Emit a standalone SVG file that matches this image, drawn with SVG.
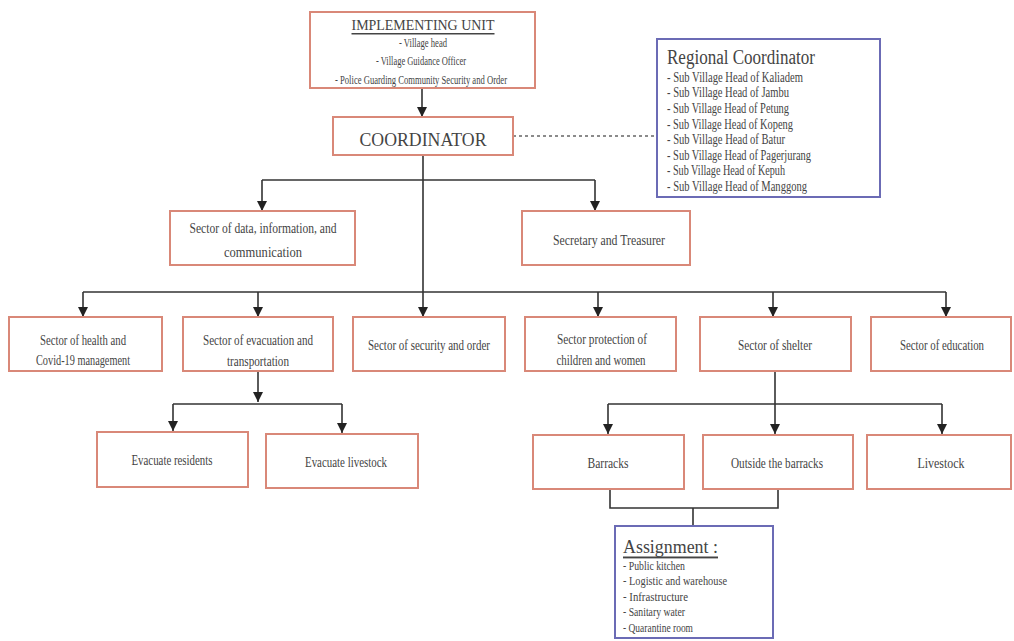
<svg xmlns="http://www.w3.org/2000/svg" width="1014" height="641" viewBox="0 0 1014 641">
<defs>
<marker id="arr" viewBox="0 0 10 10" refX="10" refY="5" markerWidth="10" markerHeight="10" markerUnits="userSpaceOnUse" orient="auto">
<path d="M0,0 L10,5 L0,10 z" fill="#222"/>
</marker>
<style>
.red{fill:#fff;stroke:#d98878;stroke-width:2}
.blue{fill:#fff;stroke:#6b6bb5;stroke-width:2}
.t{font-family:"Liberation Serif",serif;fill:#444;font-size:15px;text-anchor:middle;dominant-baseline:central}
.l{font-family:"Liberation Serif",serif;fill:#444;font-size:14px;dominant-baseline:central}
.ln{fill:none;stroke:#333;stroke-width:1.6}
.ar{fill:none;stroke:#333;stroke-width:1.6;marker-end:url(#arr)}
</style>
</defs>
<rect width="1014" height="641" fill="#fff"/>
<g id="connectors">
<line class="ar" x1="422" y1="88" x2="422" y2="117"/>
<line x1="513" y1="136" x2="656" y2="136" stroke="#666" stroke-width="1.3" stroke-dasharray="3,3"/>
<line class="ln" x1="423" y1="155" x2="423" y2="292"/>
<polyline class="ar" points="262,180 262,211"/>
<polyline class="ar" points="595,180 595,211"/>
<line class="ln" x1="262" y1="180" x2="595" y2="180"/>
<line class="ln" x1="83" y1="292" x2="946" y2="292"/>
<line class="ar" x1="83" y1="292" x2="83" y2="317"/>
<line class="ar" x1="258" y1="292" x2="258" y2="317"/>
<line class="ar" x1="423" y1="292" x2="423" y2="317"/>
<line class="ar" x1="598" y1="292" x2="598" y2="317"/>
<line class="ar" x1="773" y1="292" x2="773" y2="317"/>
<line class="ar" x1="946" y1="292" x2="946" y2="317"/>
<line class="ar" x1="258" y1="371" x2="258" y2="402"/>
<line class="ln" x1="173" y1="404" x2="342" y2="404"/>
<line class="ar" x1="173" y1="404" x2="173" y2="431"/>
<line class="ar" x1="342" y1="404" x2="342" y2="433"/>
<line class="ln" x1="775" y1="371" x2="775" y2="404"/>
<line class="ln" x1="608" y1="404" x2="942" y2="404"/>
<line class="ar" x1="608" y1="404" x2="608" y2="434"/>
<line class="ar" x1="775" y1="404" x2="775" y2="434"/>
<line class="ar" x1="942" y1="404" x2="942" y2="434"/>
<polyline class="ln" points="610,489 610,508 778,508 778,489"/>
<line class="ln" x1="693" y1="508" x2="693" y2="526"/>
</g>
<g id="implementing-unit">
<rect class="red" x="310" y="12" width="225" height="76"/>
<text class="t" x="423" y="25" style="font-size:15px" textLength="143" lengthAdjust="spacingAndGlyphs" text-decoration="underline">IMPLEMENTING UNIT</text>
<text class="t" x="423" y="42" style="font-size:13px" textLength="48" lengthAdjust="spacingAndGlyphs">- Village head</text>
<text class="t" x="421" y="60" style="font-size:13px" textLength="90" lengthAdjust="spacingAndGlyphs">- Village Guidance Officer</text>
<text class="t" x="421" y="79" style="font-size:13px" textLength="172" lengthAdjust="spacingAndGlyphs">- Police Guarding Community Security and Order</text>
</g>
<g id="coordinator">
<rect class="red" x="333" y="117" width="180" height="38"/>
<text class="t" x="423" y="139" style="font-size:19px" textLength="127" lengthAdjust="spacingAndGlyphs">COORDINATOR</text>
</g>
<g id="regional-coordinator">
<rect class="blue" x="657" y="39" width="223" height="158"/>
<text class="l" x="667" y="57" style="font-size:20px" textLength="148" lengthAdjust="spacingAndGlyphs">Regional Coordinator</text>
<text class="l" x="667" y="77" textLength="136" lengthAdjust="spacingAndGlyphs">- Sub Village Head of Kaliadem</text>
<text class="l" x="667" y="92" textLength="122" lengthAdjust="spacingAndGlyphs">- Sub Village Head of Jambu</text>
<text class="l" x="667" y="108" textLength="122" lengthAdjust="spacingAndGlyphs">- Sub Village Head of Petung</text>
<text class="l" x="667" y="124" textLength="126" lengthAdjust="spacingAndGlyphs">- Sub Village Head of Kopeng</text>
<text class="l" x="667" y="139" textLength="118" lengthAdjust="spacingAndGlyphs">- Sub Village Head of Batur</text>
<text class="l" x="667" y="155" textLength="144" lengthAdjust="spacingAndGlyphs">- Sub Village Head of Pagerjurang</text>
<text class="l" x="667" y="170" textLength="118" lengthAdjust="spacingAndGlyphs">- Sub Village Head of Kepuh</text>
<text class="l" x="667" y="186" textLength="140" lengthAdjust="spacingAndGlyphs">- Sub Village Head of Manggong</text>
</g>
<g id="sector-data">
<rect class="red" x="170" y="211" width="185" height="54"/>
<text class="t" x="263" y="228" textLength="147" lengthAdjust="spacingAndGlyphs">Sector of data, information, and</text>
<text class="t" x="263" y="252" textLength="78" lengthAdjust="spacingAndGlyphs">communication</text>
</g>
<g id="secretary">
<rect class="red" x="522" y="211" width="168" height="54"/>
<text class="t" x="609" y="240" textLength="112" lengthAdjust="spacingAndGlyphs">Secretary and Treasurer</text>
</g>
<g id="sector-health">
<rect class="red" x="9" y="317" width="153" height="54"/>
<text class="t" x="83" y="340" textLength="86" lengthAdjust="spacingAndGlyphs">Sector of health and</text>
<text class="t" x="83" y="360" textLength="94" lengthAdjust="spacingAndGlyphs">Covid-19 management</text>
</g>
<g id="sector-evacuation">
<rect class="red" x="183" y="317" width="150" height="54"/>
<text class="t" x="258" y="340" textLength="110" lengthAdjust="spacingAndGlyphs">Sector of evacuation and</text>
<text class="t" x="258" y="361" textLength="62" lengthAdjust="spacingAndGlyphs">transportation</text>
</g>
<g id="sector-security">
<rect class="red" x="353" y="317" width="152" height="54"/>
<text class="t" x="429" y="345" textLength="122" lengthAdjust="spacingAndGlyphs">Sector of security and order</text>
</g>
<g id="sector-protection">
<rect class="red" x="525" y="317" width="151" height="54"/>
<text class="t" x="602" y="339" textLength="90" lengthAdjust="spacingAndGlyphs">Sector protection of</text>
<text class="t" x="601" y="360" textLength="89" lengthAdjust="spacingAndGlyphs">children and women</text>
</g>
<g id="sector-shelter">
<rect class="red" x="700" y="317" width="151" height="54"/>
<text class="t" x="775" y="345" textLength="74" lengthAdjust="spacingAndGlyphs">Sector of shelter</text>
</g>
<g id="sector-education">
<rect class="red" x="871" y="317" width="140" height="54"/>
<text class="t" x="942" y="345" style="font-size:14px" textLength="84" lengthAdjust="spacingAndGlyphs">Sector of education</text>
</g>
<g id="evacuate-residents">
<rect class="red" x="97" y="432" width="151" height="55"/>
<text class="t" x="172" y="460" textLength="81" lengthAdjust="spacingAndGlyphs">Evacuate residents</text>
</g>
<g id="evacuate-livestock">
<rect class="red" x="266" y="434" width="152" height="54"/>
<text class="t" x="346" y="462" textLength="82" lengthAdjust="spacingAndGlyphs">Evacuate livestock</text>
</g>
<g id="barracks">
<rect class="red" x="533" y="435" width="151" height="54"/>
<text class="t" x="608" y="463" textLength="41" lengthAdjust="spacingAndGlyphs">Barracks</text>
</g>
<g id="outside-barracks">
<rect class="red" x="703" y="435" width="150" height="54"/>
<text class="t" x="777" y="463" textLength="92" lengthAdjust="spacingAndGlyphs">Outside the barracks</text>
</g>
<g id="livestock">
<rect class="red" x="867" y="435" width="144" height="54"/>
<text class="t" x="941" y="463" textLength="47" lengthAdjust="spacingAndGlyphs">Livestock</text>
</g>
<g id="assignment">
<rect class="blue" x="615" y="526" width="158" height="112"/>
<text class="l" x="623" y="546" style="font-size:19px" textLength="95" lengthAdjust="spacingAndGlyphs" text-decoration="underline">Assignment :</text>
<text class="l" x="623" y="565" style="font-size:13px" textLength="62" lengthAdjust="spacingAndGlyphs">- Public kitchen</text>
<text class="l" x="623" y="580" style="font-size:13px" textLength="104" lengthAdjust="spacingAndGlyphs">- Logistic and warehouse</text>
<text class="l" x="623" y="596" style="font-size:13px" textLength="65" lengthAdjust="spacingAndGlyphs">- Infrastructure</text>
<text class="l" x="623" y="611" style="font-size:13px" textLength="62" lengthAdjust="spacingAndGlyphs">- Sanitary water</text>
<text class="l" x="623" y="627" style="font-size:13px" textLength="70" lengthAdjust="spacingAndGlyphs">- Quarantine room</text>
</g>
</svg>
